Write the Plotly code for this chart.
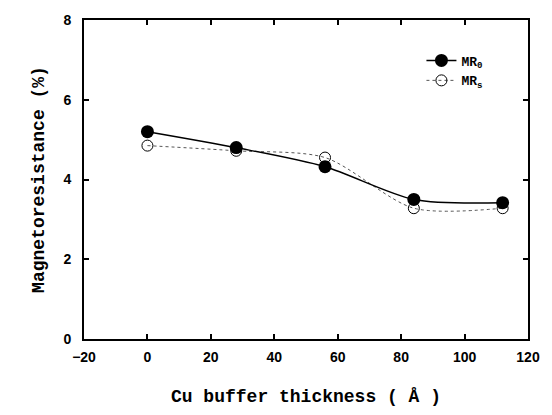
import plotly.graph_objects as go

thickness = [0, 28, 56, 84, 112]
mr_0 = [5.2, 4.8, 4.32, 3.5, 3.42]
mr_s = [4.85, 4.72, 4.55, 3.28, 3.28]

x_ticks = [-20, 0, 20, 40, 60, 80, 100, 120]
y_ticks = [0, 2, 4, 6, 8]

fig = go.Figure()
fig.add_trace(go.Scatter(
    x=thickness, y=mr_s, name="MR<sub>s</sub>", mode="lines+markers",
    line=dict(color="#555555", width=1, dash="dot", shape="spline", smoothing=0.8),
    marker=dict(symbol="circle-open", size=11, color="black", line=dict(width=1)),
))
fig.add_trace(go.Scatter(
    x=thickness, y=mr_0, name="MR<sub>0</sub>", mode="lines+markers",
    line=dict(color="black", width=1.5, shape="spline", smoothing=0.8),
    marker=dict(symbol="circle", size=13, color="black"),
))

axis_common = dict(
    showgrid=False, zeroline=False, showline=True, linecolor="black", linewidth=2,
    mirror="ticks", ticks="inside", ticklen=5, tickcolor="black", tickwidth=1.5,
    tickfont=dict(family="Liberation Sans", size=14, color="black", weight="bold"),
)
fig.update_xaxes(range=[-20, 120], tickvals=x_ticks, ticklabelstandoff=4,
                 title=dict(text="Cu buffer thickness ( Å )", standoff=26,
                            font=dict(family="Liberation Mono", size=18, color="black", weight="bold")),
                 **axis_common)
fig.update_yaxes(range=[0, 8], tickvals=y_ticks, ticklabelstandoff=8,
                 title=dict(text="Magnetoresistance (%)", standoff=14,
                            font=dict(family="Liberation Mono", size=18, color="black", weight="bold")),
                 **axis_common)

fig.update_layout(
    width=552, height=415, margin=dict(l=84, r=20, t=16, b=72),
    paper_bgcolor="white", plot_bgcolor="white", showlegend=True,
    legend=dict(x=0.76, y=0.92, xanchor="left", yanchor="top", traceorder="reversed",
                bgcolor="rgba(0,0,0,0)",
                font=dict(family="Liberation Mono", size=13, color="black", weight="bold")),
)
fig.write_html("out.html")
